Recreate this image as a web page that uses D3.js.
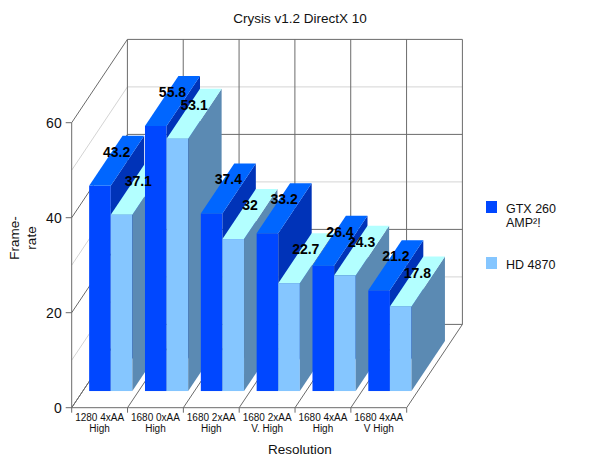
<!DOCTYPE html>
<html><head><meta charset="utf-8">
<script src="https://cdn.jsdelivr.net/npm/d3@7/dist/d3.min.js"></script>
<style>body{margin:0;background:#fff}svg{display:block;font-family:"Liberation Sans",Arial,sans-serif}</style>
</head><body><svg id="c" width="600" height="463"></svg>
<script>
const categories = [["1280 4xAA","High"],["1680 0xAA","High"],["1680 2xAA","High"],["1680 2xAA","V. High"],["1680 4xAA","High"],["1680 4xAA","V High"]];
const seriesNames = ["GTX 260 AMP²!", "HD 4870"];
const legendLines = [["GTX 260","AMP²!"],["HD 4870"]];
const gtx = [43.2, 55.8, 37.4, 33.2, 26.4, 21.2];
const hd = [37.1, 53.1, 32, 22.7, 24.3, 17.8];
const yTicks = [0, 20, 40, 60];
const yGrid = [0, 10, 20, 30, 40, 50, 60];
const faceColors = [
  {front:"#0047ff", top:"#0066ff", side:"#0033b8"},
  {front:"#85c6ff", top:"#b3ffff", side:"#5b8ab3"}
];

const svg = d3.select("#c");
const catIdx = categories.map((d,i)=>i);
const x = d3.scaleBand().domain(catIdx).range([71.7, 406.7]).padding(0);
const y = d3.scaleLinear().domain([0, 60]).range([407.7, 122.7]);
const D = {dx: 55.7, dy: -83.3};
const bw = x.bandwidth();
const dark = "#6b6b6b", light = "#d4d4d4";

const g = svg.append("g");
yGrid.forEach(v => {
  const major = v % 20 === 0;
  g.append("line").attr("x1", x(0)+D.dx).attr("x2", x(5)+bw+D.dx)
    .attr("y1", y(v)+D.dy).attr("y2", y(v)+D.dy)
    .attr("stroke", major?dark:light).attr("stroke-width",1);
  g.append("line").attr("x1", x(0)).attr("y1", y(v))
    .attr("x2", x(0)+D.dx).attr("y2", y(v)+D.dy)
    .attr("stroke", major?dark:light).attr("stroke-width",1);
});
catIdx.concat([6]).forEach(i => {
  const fx = i<6? x(i) : x(5)+bw;
  const xx = fx + D.dx;
  g.append("line").attr("x1", xx).attr("x2", xx).attr("y1", y(60)+D.dy).attr("y2", y(0)+D.dy)
    .attr("stroke", dark);
  g.append("line").attr("x1", fx).attr("y1", y(0)).attr("x2", fx+D.dx).attr("y2", y(0)+D.dy)
    .attr("stroke", dark);
  g.append("line").attr("x1", fx).attr("x2", fx).attr("y1", y(0)).attr("y2", y(0)+5).attr("stroke", dark);
});
g.append("line").attr("x1", x(0)).attr("x2", x(0)).attr("y1", y(60)).attr("y2", y(0)).attr("stroke", dark);
g.append("line").attr("x1", x(0)).attr("x2", x(5)+bw).attr("y1", y(0)).attr("y2", y(0)).attr("stroke", dark);
yTicks.forEach(v => {
  g.append("line").attr("x1", x(0)-6).attr("x2", x(0)).attr("y1", y(v)).attr("y2", y(v)).attr("stroke", dark);
  g.append("text").attr("x", x(0)-10).attr("y", y(v)).attr("dy","0.36em")
    .attr("text-anchor","end").attr("font-size","14px").attr("fill","#111").text(v);
});

const off = 0.2, depth = 0.6;
const barW = bw*0.387, gap = bw*0.113;
const sdx = D.dx*depth, sdy = D.dy*depth;
const labels = [];
catIdx.forEach(i => {
  [gtx[i], hd[i]].forEach((v, s) => {
    const xl = x(i) + D.dx*off + gap + s*barW;
    const xr = xl + barW;
    const yb = y(0) + D.dy*off;
    const yt = y(v) + D.dy*off;
    const c = faceColors[s];
    g.append("rect").attr("x", xl).attr("y", yt).attr("width", barW).attr("height", yb-yt).attr("fill", c.front);
    g.append("polygon").attr("points", [[xr,yt],[xr+sdx,yt+sdy],[xr+sdx,yb+sdy],[xr,yb]].join(" ")).attr("fill", c.side);
    g.append("polygon").attr("points", [[xl,yt],[xr,yt],[xr+sdx,yt+sdy],[xl+sdx,yt+sdy]].join(" ")).attr("fill", c.top);
    labels.push({x: (xl+xr)/2 + sdx/2, y: yt + sdy/2 - 4, v});
  });
});
labels.forEach(l => {
  g.append("text").attr("x", l.x).attr("y", l.y).attr("text-anchor","middle")
    .attr("font-size","14px").attr("font-weight","bold").attr("fill","#000").text(l.v);
});

catIdx.forEach(i => {
  const t = g.append("text").attr("text-anchor","middle").attr("font-size","10px").attr("fill","#111");
  categories[i].forEach((ln, k) => {
    t.append("tspan").attr("x", x(i)+bw/2).attr("y", 420.5 + k*11).text(ln);
  });
});

svg.append("text").attr("x", 300).attr("y", 22.5).attr("text-anchor","middle").attr("font-size","13.5px").attr("fill","#111").text("Crysis v1.2 DirectX 10");
svg.append("text").attr("x", 300).attr("y", 454).attr("text-anchor","middle").attr("font-size","13.5px").attr("fill","#111").text("Resolution");
const yl = svg.append("text").attr("transform","translate(19,238) rotate(-90)").attr("text-anchor","middle").attr("font-size","13.5px").attr("fill","#111");
yl.append("tspan").attr("x",0).attr("y",0).text("Frame-");
yl.append("tspan").attr("x",0).attr("y",16.5).text("rate");

const legY = [201, 257];
seriesNames.forEach((n, s) => {
  svg.append("rect").attr("x", 486).attr("y", legY[s]).attr("width", 11).attr("height", 12).attr("fill", faceColors[s].front);
  const t = svg.append("text").attr("font-size","12.5px").attr("fill","#111");
  legendLines[s].forEach((ln, k) => {
    t.append("tspan").attr("x", 506).attr("y", legY[s] + 11.5 + k*14).text(ln);
  });
});
</script></body></html>
